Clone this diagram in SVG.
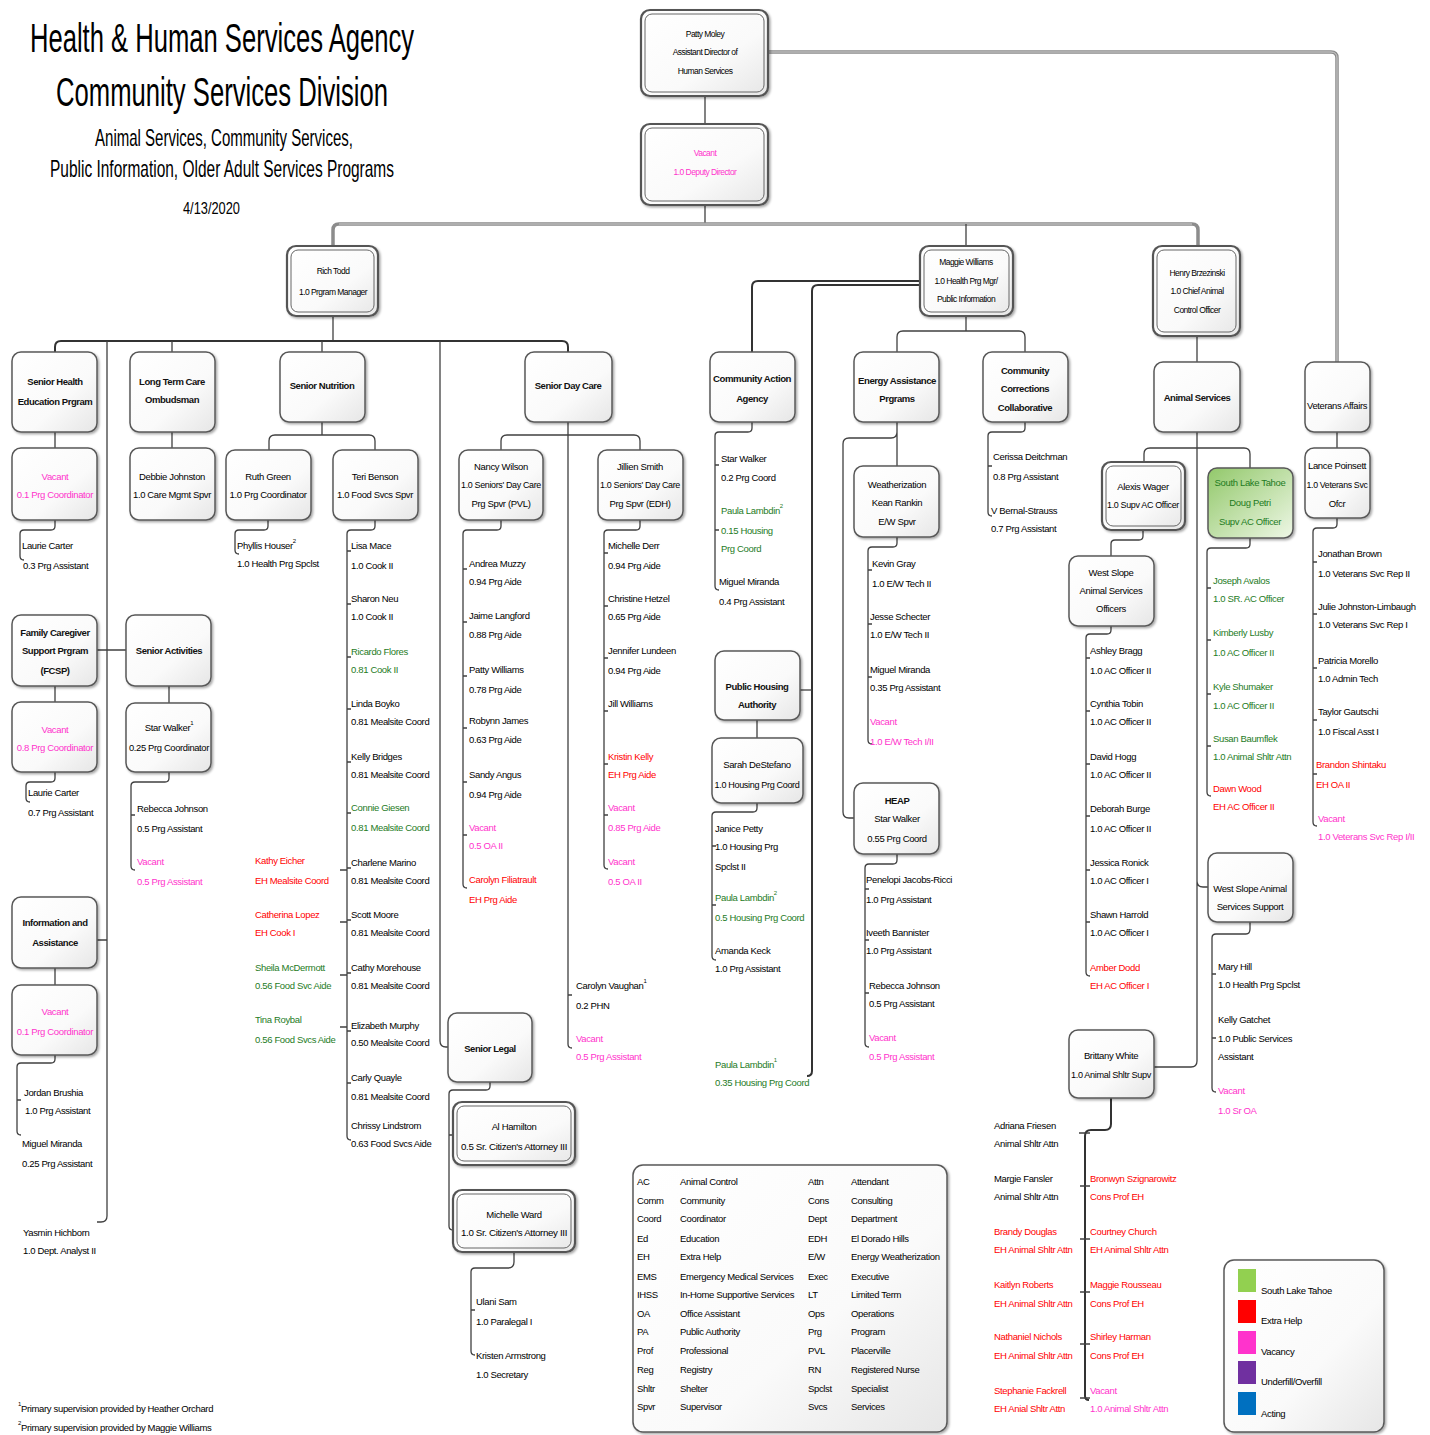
<svg xmlns="http://www.w3.org/2000/svg" width="1430" height="1435" viewBox="0 0 1430 1435">
<defs>
<linearGradient id="gw" x1="0" y1="0" x2="1" y2="1"><stop offset="0" stop-color="#ffffff"/><stop offset="0.6" stop-color="#fafafa"/><stop offset="1" stop-color="#e6e6e6"/></linearGradient>
<linearGradient id="gg" x1="0" y1="0" x2="1" y2="1"><stop offset="0" stop-color="#92c86a"/><stop offset="1" stop-color="#eef7e6"/></linearGradient>
<filter id="sh" x="-10%" y="-10%" width="130%" height="130%"><feDropShadow dx="1.5" dy="1.5" stdDeviation="1" flood-color="#000" flood-opacity="0.35"/></filter>
</defs>
<style>
.box{fill:url(#gw);stroke:#595959;stroke-width:1.5;filter:url(#sh)}
.dbl{fill:url(#gw);stroke:#555;stroke-width:2.2;filter:url(#sh)}
.in{fill:none;stroke:#666;stroke-width:1}
.c{fill:none;stroke:#404040;stroke-width:1.3}
.ct{fill:none;stroke:#333;stroke-width:2}
.bus{fill:none;stroke:#8c8c8c;stroke-width:3.5}
.busi{fill:none;stroke:#d0d0d0;stroke-width:1}
text{font-family:"Liberation Sans",Arial,sans-serif;font-size:9.5px;letter-spacing:-0.35px;fill:#000;dominant-baseline:central}
.m{text-anchor:middle}
.b{font-weight:bold;letter-spacing:-0.45px;fill:#111}
.s{font-size:8.5px;letter-spacing:-0.55px}
.v{fill:#ff33cc}
.r{fill:#ff0000}
.g{fill:#1e7b1e}
.tt{font-size:40px;letter-spacing:0}
.st{font-size:24px;letter-spacing:0}
</style>
<rect width="1430" height="1435" fill="#ffffff"/>

<g id="title">
<text x="30" y="38" class="tt" textLength="384" lengthAdjust="spacingAndGlyphs">Health &amp; Human Services Agency</text>
<text x="56" y="92" class="tt" textLength="332" lengthAdjust="spacingAndGlyphs">Community Services Division</text>
<text x="95" y="137" class="st" textLength="258" lengthAdjust="spacingAndGlyphs">Animal Services, Community Services,</text>
<text x="50" y="168" class="st" textLength="344" lengthAdjust="spacingAndGlyphs">Public Information, Older Adult Services Programs</text>
<text x="183" y="208" style="font-size:17px;letter-spacing:0" textLength="57" lengthAdjust="spacingAndGlyphs">4/13/2020</text>
</g>

<g id="connectors">
<path class="bus" d="M768,52 H1331 Q1337,52 1337,58 V362"/>
<path class="busi" d="M768,52 H1331 Q1337,52 1337,58 V362"/>
<path class="c" d="M705,96 V124"/>
<path class="c" d="M705,205 V224"/>
<path class="bus" d="M333,246 V230 Q333,224 339,224 H1192 Q1198,224 1198,230 V246"/>
<path class="busi" d="M339,224 H1192"/>
<path class="c" d="M966,224 V246"/>
<path class="c" d="M333,316 V341"/>
<path class="ct" d="M55,352 V347 Q55,341 61,341 H562 Q568,341 568,347 V352"/>
<path class="c" d="M172,341 V352 M322,341 V352"/>
<path class="c" d="M97,1222 H101 Q107,1222 107,1216 V341"/>
<path class="c" d="M440,341 V1041 Q440,1047 446,1047 H448"/>
<path class="c" d="M97,650 H126 M97,940 H107"/>
<path class="c" d="M55,432 V448 M55,520 V526 Q55,530 51,530 H24 Q20,530 20,534 V556 Q20,560 24,560"/>
<path class="c" d="M55,686 V702 M55,772 V778 Q55,782 51,782 H30 Q26,782 26,786 V798 Q26,802 30,802"/>
<path class="c" d="M55,968 V985 M55,1055 V1059 Q55,1063 51,1063 H21 Q17,1063 17,1067 V1131 Q17,1135 21,1135 M17,1100 H21"/>
<path class="c" d="M172,432 V448"/>
<path class="c" d="M169,686 V703 M169,772 V778 Q169,782 165,782 H135 Q131,782 131,786 V866 Q131,870 135,870 M131,815 H135"/>
<path class="c" d="M322,422 V435 M269,450 V441 Q269,435 275,435 H369 Q375,435 375,441 V450"/>
<path class="c" d="M268,520 V526 Q268,530 264,530 H239 Q235,530 235,534 V550 Q235,554 239,554"/>
<path class="c" d="M375,520 V526 Q375,530 371,530 H351 Q347,530 347,534 V1136 Q347,1140 351,1140 M347,551 H351 M347,604 H351 M347,657 H351 M347,709 H351 M347,762 H351 M347,813 H351 M347,868 H351 M347,920 H351 M347,973 H351 M347,1031 H351 M347,1083 H351 M340,870 H347 M340,922 H347 M340,975 H347 M340,1027 H347"/>
<path class="c" d="M568,422 V1044 Q568,1048 572,1048 M568,995 H572 M501,450 V441 Q501,435 507,435 H634 Q640,435 640,441 V450"/>
<path class="c" d="M501,520 V526 Q501,530 497,530 H467 Q463,530 463,534 V884 Q463,888 467,888 M463,569 H467 M463,622 H467 M463,676 H467 M463,728 H467 M463,782 H467 M463,835 H467"/>
<path class="c" d="M640,520 V526 Q640,530 636,530 H608 Q604,530 604,534 V865 Q604,869 608,869 M604,553 H608 M604,606 H608 M604,658 H608 M604,711 H608 M604,764 H608 M604,815 H608"/>
<path class="c" d="M490,1082 V1086 Q490,1090 486,1090 H453 Q449,1090 449,1094 V1226 Q449,1230 453,1230 M449,1135 H453"/>
<path class="c" d="M514,1252 V1262 Q514,1268 508,1268 H475 Q471,1268 471,1272 V1351 Q471,1355 475,1355 M471,1310 H475"/>
<path class="ct" d="M920,281 H758 Q752,281 752,287 V352"/>
<path class="ct" d="M920,285 H818 Q812,285 812,291 V1071 Q812,1076 807,1076"/>
<path class="c" d="M800,690 H812"/>
<path class="c" d="M966,316 V331 M897,352 V337 Q897,331 903,331 H1019 Q1025,331 1025,337 V352"/>
<path class="c" d="M752,422 V428 Q752,432 748,432 H719 Q715,432 715,436 V586 Q715,590 719,590 M715,465 H719 M715,530 H719"/>
<path class="c" d="M757,720 V738 M757,803 V808 Q757,812 753,812 H716 Q712,812 712,816 V956 Q712,960 716,960 M712,846 H716 M712,905 H716"/>
<path class="c" d="M897,422 V466 M897,432 Q897,438 891,438 H849 Q843,438 843,444 V812 Q843,818 849,818 H854"/>
<path class="c" d="M897,537 V543 Q897,547 893,547 H872 Q868,547 868,551 V740 Q868,744 872,744 M868,570 H872 M868,624 H872 M868,677 H872"/>
<path class="c" d="M897,854 V860 Q897,864 893,864 H869 Q865,864 865,868 V1043 Q865,1047 869,1047 M865,889 H869 M865,940 H869 M865,993 H869"/>
<path class="c" d="M1025,422 V428 Q1025,432 1021,432 H992 Q988,432 988,436 V512 Q988,516 992,516 M988,466 H992"/>
<path class="c" d="M1197,336 V362"/>
<path class="c" d="M1197,432 V1061 Q1197,1067 1191,1067 H1154 M1197,881 Q1197,887 1203,887 H1208"/>
<path class="c" d="M1144,462 V454 Q1144,448 1150,448 H1244 Q1250,448 1250,454 V468"/>
<path class="c" d="M1143,530 V536 Q1143,540 1139,540 H1115 Q1111,540 1111,544 V556"/>
<path class="c" d="M1111,626 V630 Q1111,634 1107,634 H1090 Q1086,634 1086,638 V972 Q1086,976 1090,976 M1086,658 H1090 M1086,711 H1090 M1086,764 H1090 M1086,816 H1090 M1086,870 H1090 M1086,922 H1090"/>
<path class="c" d="M1250,538 V544 Q1250,548 1246,548 H1211 Q1207,548 1207,552 V792 Q1207,796 1211,796 M1207,588 H1211 M1207,640 H1211 M1207,694 H1211 M1207,746 H1211"/>
<path class="c" d="M1250,922 V929 Q1250,934 1246,934 H1216 Q1212,934 1212,938 V1088 Q1212,1092 1216,1092 M1212,974 H1216 M1212,1038 H1216"/>
<path class="ct" d="M1111,1098 V1124 Q1111,1130 1105,1130 H1091 Q1085,1130 1085,1136 V1396 Q1085,1400 1089,1400"/>
<path class="c" d="M1079,1133 H1090 M1080,1186 H1090 M1080,1239 H1090 M1080,1292 H1090 M1080,1344 H1090 M1080,1398 H1090"/>
<path class="c" d="M1337,432 V448 M1337,518 V524 Q1337,528 1333,528 H1317 Q1313,528 1313,532 V822 Q1313,826 1317,826 M1313,562 H1317 M1313,614 H1317 M1313,668 H1317 M1313,720 H1317 M1313,774 H1317"/>
</g>

<g id="patty-moley">
<rect class="dbl" x="641" y="10" width="127" height="86" rx="9"/><rect class="in" x="645" y="14" width="119" height="78" rx="7"/>
<text class="m s" x="705" y="34">Patty Moley</text><text class="m s" x="705" y="52">Assistant Director of</text><text class="m s" x="705" y="71">Human Services</text>
</g>
<g id="deputy-director">
<rect class="dbl" x="641" y="124" width="127" height="81" rx="9"/><rect class="in" x="645" y="128" width="119" height="73" rx="7"/>
<text class="m s v" x="705" y="153">Vacant</text><text class="m s v" x="705" y="172">1.0 Deputy Director</text>
</g>
<g id="rich-todd">
<rect class="dbl" x="287" y="246" width="91" height="70" rx="9"/><rect class="in" x="291" y="250" width="83" height="62" rx="7"/>
<text class="m s" x="333" y="271">Rich Todd</text><text class="m s" x="333" y="292">1.0 Prgram Manager</text>
</g>
<g id="maggie-williams">
<rect class="dbl" x="920" y="246" width="93" height="70" rx="9"/><rect class="in" x="924" y="250" width="85" height="62" rx="7"/>
<text class="m s" x="966" y="262">Maggie Williams</text><text class="m s" x="966" y="281">1.0 Health Prg Mgr/</text><text class="m s" x="966" y="299">Public Information</text>
</g>
<g id="henry-brzezinski">
<rect class="dbl" x="1153" y="246" width="87" height="90" rx="9"/><rect class="in" x="1157" y="250" width="79" height="82" rx="7"/>
<text class="m s" x="1197" y="273">Henry Brzezinski</text><text class="m s" x="1197" y="291">1.0 Chief Animal</text><text class="m s" x="1197" y="310">Control Officer</text>
</g>

<g id="senior-health">
<rect class="box" x="12" y="352" width="85" height="80" rx="9"/>
<text class="m b" x="55" y="381">Senior Health</text><text class="m b" x="55" y="401">Education Prgram</text>
</g>
<g id="she-vacant">
<rect class="box" x="12" y="448" width="85" height="72" rx="9"/>
<text class="m v" x="55" y="476">Vacant</text><text class="m v" x="55" y="494">0.1 Prg Coordinator</text>
</g>
<g id="she-staff"><text x="22" y="545">Laurie Carter</text><text x="23" y="565">0.3 Prg Assistant</text></g>

<g id="family-caregiver">
<rect class="box" x="12" y="615" width="85" height="71" rx="9"/>
<text class="m b" x="55" y="632">Family Caregiver</text><text class="m b" x="55" y="650">Support Prgram</text><text class="m b" x="55" y="670">(FCSP)</text>
</g>
<g id="fcsp-vacant">
<rect class="box" x="12" y="702" width="85" height="70" rx="9"/>
<text class="m v" x="55" y="729">Vacant</text><text class="m v" x="55" y="747">0.8 Prg Coordinator</text>
</g>
<g id="fcsp-staff"><text x="28" y="792">Laurie Carter</text><text x="28" y="812">0.7 Prg Assistant</text></g>

<g id="info-assistance">
<rect class="box" x="12" y="897" width="85" height="71" rx="9"/>
<text class="m b" x="55" y="922">Information and</text><text class="m b" x="55" y="942">Assistance</text>
</g>
<g id="ia-vacant">
<rect class="box" x="12" y="985" width="85" height="70" rx="9"/>
<text class="m v" x="55" y="1011">Vacant</text><text class="m v" x="55" y="1031">0.1 Prg Coordinator</text>
</g>
<g id="ia-staff"><text x="24" y="1092">Jordan Brushia</text><text x="25" y="1110">1.0 Prg Assistant</text><text x="22" y="1143">Miguel Miranda</text><text x="22" y="1163">0.25 Prg Assistant</text></g>
<g id="yasmin"><text x="23" y="1232">Yasmin Hichborn</text><text x="23" y="1250">1.0 Dept. Analyst II</text></g>

<g id="long-term-care">
<rect class="box" x="130" y="352" width="85" height="80" rx="9"/>
<text class="m b" x="172" y="381">Long Term Care</text><text class="m b" x="172" y="399">Ombudsman</text>
</g>
<g id="debbie-johnston">
<rect class="box" x="130" y="448" width="85" height="72" rx="9"/>
<text class="m" x="172" y="476">Debbie Johnston</text><text class="m" x="172" y="494" textLength="78" lengthAdjust="spacingAndGlyphs">1.0 Care Mgmt Spvr</text>
</g>

<g id="senior-activities">
<rect class="box" x="126" y="615" width="85" height="71" rx="9"/>
<text class="m b" x="169" y="650">Senior Activities</text>
</g>
<g id="star-walker-sa">
<rect class="box" x="126" y="703" width="85" height="69" rx="9"/>
<text class="m" x="169" y="727">Star Walker<tspan font-size="6" dy="-4">1</tspan></text><text class="m" x="169" y="747" textLength="80" lengthAdjust="spacingAndGlyphs">0.25 Prg Coordinator</text>
</g>
<g id="sa-staff"><text x="137" y="808">Rebecca Johnson</text><text x="137" y="828">0.5 Prg Assistant</text><text class="v" x="137" y="861">Vacant</text><text class="v" x="137" y="881">0.5 Prg Assistant</text></g>

<g id="senior-nutrition">
<rect class="box" x="280" y="352" width="85" height="70" rx="9"/>
<text class="m b" x="322" y="385">Senior Nutrition</text>
</g>
<g id="ruth-green">
<rect class="box" x="226" y="450" width="85" height="70" rx="9"/>
<text class="m" x="268" y="476">Ruth Green</text><text class="m" x="268" y="494" textLength="77" lengthAdjust="spacingAndGlyphs">1.0 Prg Coordinator</text>
</g>
<g id="ruth-staff"><text x="237" y="545">Phyllis Houser<tspan font-size="6" dy="-4">2</tspan></text><text x="237" y="563">1.0 Health Prg Spclst</text></g>
<g id="teri-benson">
<rect class="box" x="333" y="450" width="85" height="70" rx="9"/>
<text class="m" x="375" y="476">Teri Benson</text><text class="m" x="375" y="494" textLength="76" lengthAdjust="spacingAndGlyphs">1.0 Food Svcs Spvr</text>
</g>
<g id="teri-staff">
<text x="351" y="545">Lisa Mace</text><text x="351" y="565">1.0 Cook II</text>
<text x="351" y="598">Sharon Neu</text><text x="351" y="616">1.0 Cook II</text>
<text class="g" x="351" y="651">Ricardo Flores</text><text class="g" x="351" y="669">0.81 Cook II</text>
<text x="351" y="703">Linda Boyko</text><text x="351" y="721">0.81 Mealsite Coord</text>
<text x="351" y="756">Kelly Bridges</text><text x="351" y="774">0.81 Mealsite Coord</text>
<text class="g" x="351" y="807">Connie Giesen</text><text class="g" x="351" y="827">0.81 Mealsite Coord</text>
<text x="351" y="862">Charlene Marino</text><text x="351" y="880">0.81 Mealsite Coord</text>
<text x="351" y="914">Scott Moore</text><text x="351" y="932">0.81 Mealsite Coord</text>
<text x="351" y="967">Cathy Morehouse</text><text x="351" y="985">0.81 Mealsite Coord</text>
<text x="351" y="1025">Elizabeth Murphy</text><text x="351" y="1042">0.50 Mealsite Coord</text>
<text x="351" y="1077">Carly Quayle</text><text x="351" y="1096">0.81 Mealsite Coord</text>
<text x="351" y="1125">Chrissy Lindstrom</text><text x="351" y="1143">0.63 Food Svcs Aide</text>
<text class="r" x="255" y="860">Kathy Eicher</text><text class="r" x="255" y="880">EH Mealsite Coord</text>
<text class="r" x="255" y="914">Catherina Lopez</text><text class="r" x="255" y="932">EH Cook I</text>
<text class="g" x="255" y="967">Sheila McDermott</text><text class="g" x="255" y="985">0.56 Food Svc Aide</text>
<text class="g" x="255" y="1019">Tina Roybal</text><text class="g" x="255" y="1039">0.56 Food Svcs Aide</text>
</g>

<g id="senior-day-care">
<rect class="box" x="525" y="352" width="87" height="70" rx="9"/>
<text class="m b" x="568" y="385">Senior Day Care</text>
</g>
<g id="nancy-wilson">
<rect class="box" x="459" y="450" width="84" height="70" rx="9"/>
<text class="m" x="501" y="466">Nancy Wilson</text><text class="m" x="501" y="484" textLength="80" lengthAdjust="spacingAndGlyphs">1.0 Seniors' Day Care</text><text class="m" x="501" y="503">Prg Spvr (PVL)</text>
</g>
<g id="nancy-staff">
<text x="469" y="563">Andrea Muzzy</text><text x="469" y="581">0.94 Prg Aide</text>
<text x="469" y="615">Jaime Langford</text><text x="469" y="634">0.88 Prg Aide</text>
<text x="469" y="669">Patty Williams</text><text x="469" y="689">0.78 Prg Aide</text>
<text x="469" y="720">Robynn James</text><text x="469" y="739">0.63 Prg Aide</text>
<text x="469" y="774">Sandy Angus</text><text x="469" y="794">0.94 Prg Aide</text>
<text class="v" x="469" y="827">Vacant</text><text class="v" x="469" y="845">0.5 OA II</text>
<text class="r" x="469" y="879">Carolyn Filiatrault</text><text class="r" x="469" y="899">EH Prg Aide</text>
</g>
<g id="jillien-smith">
<rect class="box" x="598" y="450" width="85" height="70" rx="9"/>
<text class="m" x="640" y="466">Jillien Smith</text><text class="m" x="640" y="484" textLength="80" lengthAdjust="spacingAndGlyphs">1.0 Seniors' Day Care</text><text class="m" x="640" y="503">Prg Spvr (EDH)</text>
</g>
<g id="jillien-staff">
<text x="608" y="545">Michelle Derr</text><text x="608" y="565">0.94 Prg Aide</text>
<text x="608" y="598">Christine Hetzel</text><text x="608" y="616">0.65 Prg Aide</text>
<text x="608" y="650">Jennifer Lundeen</text><text x="608" y="670">0.94 Prg Aide</text>
<text x="608" y="703">Jill Williams</text>
<text class="r" x="608" y="756">Kristin Kelly</text><text class="r" x="608" y="774">EH Prg Aide</text>
<text class="v" x="608" y="807">Vacant</text><text class="v" x="608" y="827">0.85 Prg Aide</text>
<text class="v" x="608" y="861">Vacant</text><text class="v" x="608" y="881">0.5 OA II</text>
</g>
<g id="sdc-staff">
<text x="576" y="985">Carolyn Vaughan<tspan font-size="6" dy="-4">1</tspan></text><text x="576" y="1005">0.2 PHN</text>
<text class="v" x="576" y="1038">Vacant</text><text class="v" x="576" y="1056">0.5 Prg Assistant</text>
</g>

<g id="senior-legal">
<rect class="box" x="448" y="1013" width="84" height="69" rx="9"/>
<text class="m b" x="490" y="1048">Senior Legal</text>
</g>
<g id="al-hamilton">
<rect class="dbl" x="453" y="1102" width="122" height="63" rx="9"/><rect class="in" x="457" y="1106" width="114" height="55" rx="7"/>
<text class="m" x="514" y="1126">Al Hamilton</text><text class="m" x="514" y="1146" textLength="106" lengthAdjust="spacingAndGlyphs">0.5 Sr. Citizen's Attorney III</text>
</g>
<g id="michelle-ward">
<rect class="dbl" x="453" y="1190" width="122" height="62" rx="9"/><rect class="in" x="457" y="1194" width="114" height="54" rx="7"/>
<text class="m" x="514" y="1214">Michelle Ward</text><text class="m" x="514" y="1232" textLength="106" lengthAdjust="spacingAndGlyphs">1.0 Sr. Citizen's Attorney III</text>
</g>
<g id="legal-staff">
<text x="476" y="1301">Ulani Sam</text><text x="476" y="1321">1.0 Paralegal I</text>
<text x="476" y="1355">Kristen Armstrong</text><text x="476" y="1374">1.0 Secretary</text>
</g>

<g id="community-action">
<rect class="box" x="710" y="352" width="85" height="70" rx="9"/>
<text class="m b" x="752" y="378" textLength="78" lengthAdjust="spacingAndGlyphs">Community Action</text><text class="m b" x="752" y="398">Agency</text>
</g>
<g id="caa-staff">
<text x="721" y="458">Star Walker</text><text x="721" y="477">0.2 Prg Coord</text>
<text class="g" x="721" y="510">Paula Lambdin<tspan font-size="6" dy="-4">2</tspan></text><text class="g" x="721" y="530">0.15 Housing</text><text class="g" x="721" y="548">Prg Coord</text>
<text x="719" y="581">Miguel Miranda</text><text x="719" y="601">0.4 Prg Assistant</text>
</g>
<g id="public-housing">
<rect class="box" x="715" y="651" width="85" height="69" rx="9"/>
<text class="m b" x="757" y="686">Public Housing</text><text class="m b" x="757" y="704">Authority</text>
</g>
<g id="sarah-destefano">
<rect class="box" x="712" y="738" width="91" height="65" rx="9"/>
<text class="m" x="757" y="764">Sarah DeStefano</text><text class="m" x="757" y="784" textLength="85" lengthAdjust="spacingAndGlyphs">1.0 Housing Prg Coord</text>
</g>
<g id="pha-staff">
<text x="715" y="828">Janice Petty</text><text x="715" y="846">1.0 Housing Prg</text><text x="715" y="866">Spclst II</text>
<text class="g" x="715" y="897">Paula Lambdin<tspan font-size="6" dy="-4">2</tspan></text><text class="g" x="715" y="917">0.5 Housing Prg Coord</text>
<text x="715" y="950">Amanda Keck</text><text x="715" y="968">1.0 Prg Assistant</text>
</g>
<g id="paula-lambdin-pi">
<text class="g" x="715" y="1064">Paula Lambdin<tspan font-size="6" dy="-4">1</tspan></text><text class="g" x="715" y="1082">0.35 Housing Prg Coord</text>
</g>

<g id="energy-assistance">
<rect class="box" x="854" y="352" width="85" height="70" rx="9"/>
<text class="m b" x="897" y="380" textLength="78" lengthAdjust="spacingAndGlyphs">Energy Assistance</text><text class="m b" x="897" y="398">Prgrams</text>
</g>
<g id="weatherization">
<rect class="box" x="854" y="466" width="85" height="71" rx="9"/>
<text class="m" x="897" y="484">Weatherization</text><text class="m" x="897" y="502">Kean Rankin</text><text class="m" x="897" y="521">E/W Spvr</text>
</g>
<g id="wx-staff">
<text x="872" y="563">Kevin Gray</text><text x="872" y="583">1.0 E/W Tech II</text>
<text x="870" y="616">Jesse Schecter</text><text x="870" y="634">1.0 E/W Tech II</text>
<text x="870" y="669">Miguel Miranda</text><text x="870" y="687">0.35 Prg Assistant</text>
<text class="v" x="870" y="721">Vacant</text><text class="v" x="870" y="741">1.0 E/W Tech I/II</text>
</g>
<g id="heap">
<rect class="box" x="854" y="783" width="85" height="71" rx="9"/>
<text class="m b" x="897" y="800">HEAP</text><text class="m" x="897" y="818">Star Walker</text><text class="m" x="897" y="838">0.55 Prg Coord</text>
</g>
<g id="heap-staff">
<text x="866" y="879">Penelopi Jacobs-Ricci</text><text x="866" y="899">1.0 Prg Assistant</text>
<text x="866" y="932">Iveeth Bannister</text><text x="866" y="950">1.0 Prg Assistant</text>
<text x="869" y="985">Rebecca Johnson</text><text x="869" y="1003">0.5 Prg Assistant</text>
<text class="v" x="869" y="1037">Vacant</text><text class="v" x="869" y="1056">0.5 Prg Assistant</text>
</g>

<g id="community-corrections">
<rect class="box" x="983" y="352" width="85" height="70" rx="9"/>
<text class="m b" x="1025" y="370">Community</text><text class="m b" x="1025" y="388">Corrections</text><text class="m b" x="1025" y="407">Collaborative</text>
</g>
<g id="ccc-staff">
<text x="993" y="456">Cerissa Deitchman</text><text x="993" y="476">0.8 Prg Assistant</text>
<text x="991" y="510">V Bernal-Strauss</text><text x="991" y="528">0.7 Prg Assistant</text>
</g>

<g id="animal-services">
<rect class="box" x="1154" y="362" width="86" height="70" rx="9"/>
<text class="m b" x="1197" y="397">Animal Services</text>
</g>
<g id="alexis-wager">
<rect class="dbl" x="1102" y="462" width="83" height="68" rx="9"/><rect class="in" x="1106" y="466" width="75" height="60" rx="7"/>
<text class="m" x="1143" y="486">Alexis Wager</text><text class="m" x="1143" y="504" textLength="72" lengthAdjust="spacingAndGlyphs">1.0 Supv AC Officer</text>
</g>
<g id="west-slope-officers">
<rect class="box" x="1069" y="556" width="85" height="70" rx="9"/>
<text class="m" x="1111" y="572">West Slope</text><text class="m" x="1111" y="590">Animal Services</text><text class="m" x="1111" y="608">Officers</text>
</g>
<g id="wso-staff">
<text x="1090" y="650">Ashley Bragg</text><text x="1090" y="670">1.0 AC Officer II</text>
<text x="1090" y="703">Cynthia Tobin</text><text x="1090" y="721">1.0 AC Officer II</text>
<text x="1090" y="756">David Hogg</text><text x="1090" y="774">1.0 AC Officer II</text>
<text x="1090" y="808">Deborah Burge</text><text x="1090" y="828">1.0 AC Officer II</text>
<text x="1090" y="862">Jessica Ronick</text><text x="1090" y="880">1.0 AC Officer I</text>
<text x="1090" y="914">Shawn Harrold</text><text x="1090" y="932">1.0 AC Officer I</text>
<text class="r" x="1090" y="967">Amber Dodd</text><text class="r" x="1090" y="985">EH AC Officer I</text>
</g>
<g id="south-lake-tahoe">
<rect class="box" x="1208" y="468" width="85" height="70" rx="9" style="fill:url(#gg)"/>
<text class="m g" x="1250" y="482">South Lake Tahoe</text><text class="m g" x="1250" y="502">Doug Petri</text><text class="m g" x="1250" y="521">Supv AC Officer</text>
</g>
<g id="slt-staff">
<text class="g" x="1213" y="580">Joseph Avalos</text><text class="g" x="1213" y="598">1.0 SR. AC Officer</text>
<text class="g" x="1213" y="632">Kimberly Lusby</text><text class="g" x="1213" y="652">1.0  AC Officer II</text>
<text class="g" x="1213" y="686">Kyle Shumaker</text><text class="g" x="1213" y="705">1.0 AC Officer II</text>
<text class="g" x="1213" y="738">Susan Baumflek</text><text class="g" x="1213" y="756">1.0 Animal Shltr Attn</text>
<text class="r" x="1213" y="788">Dawn Wood</text><text class="r" x="1213" y="806">EH AC Officer II</text>
</g>
<g id="west-slope-support">
<rect class="box" x="1208" y="853" width="85" height="69" rx="9"/>
<text class="m" x="1250" y="888">West Slope Animal</text><text class="m" x="1250" y="906">Services Support</text>
</g>
<g id="wss-staff">
<text x="1218" y="966">Mary Hill</text><text x="1218" y="984">1.0  Health Prg Spclst</text>
<text x="1218" y="1019">Kelly Gatchet</text><text x="1218" y="1038">1.0 Public Services</text><text x="1218" y="1056">Assistant</text>
<text class="v" x="1218" y="1090">Vacant</text><text class="v" x="1218" y="1110">1.0 Sr OA</text>
</g>
<g id="brittany-white">
<rect class="box" x="1069" y="1030" width="85" height="68" rx="9"/>
<text class="m" x="1111" y="1055">Brittany White</text><text class="m" x="1111" y="1074" textLength="80" lengthAdjust="spacingAndGlyphs">1.0 Animal Shltr Supv</text>
</g>
<g id="shelter-staff">
<text x="994" y="1125">Adriana Friesen</text><text x="994" y="1143">Animal Shltr Attn</text>
<text x="994" y="1178">Margie Fansler</text><text x="994" y="1196">Animal Shltr Attn</text>
<text class="r" x="994" y="1231">Brandy Douglas</text><text class="r" x="994" y="1249">EH Animal Shltr Attn</text>
<text class="r" x="994" y="1284">Kaitlyn Roberts</text><text class="r" x="994" y="1303">EH Animal Shltr Attn</text>
<text class="r" x="994" y="1336">Nathaniel Nichols</text><text class="r" x="994" y="1355">EH Animal Shltr Attn</text>
<text class="r" x="994" y="1390">Stephanie Fackrell</text><text class="r" x="994" y="1408">EH Anial Shltr Attn</text>
<text class="r" x="1090" y="1178">Bronwyn Szignarowitz</text><text class="r" x="1090" y="1196">Cons Prof EH</text>
<text class="r" x="1090" y="1231">Courtney Church</text><text class="r" x="1090" y="1249">EH Animal Shltr Attn</text>
<text class="r" x="1090" y="1284">Maggie Rousseau</text><text class="r" x="1090" y="1303">Cons Prof EH</text>
<text class="r" x="1090" y="1336">Shirley Harman</text><text class="r" x="1090" y="1355">Cons Prof EH</text>
<text class="v" x="1090" y="1390">Vacant</text><text class="v" x="1090" y="1408">1.0 Animal Shltr Attn</text>
</g>

<g id="veterans-affairs">
<rect class="box" x="1305" y="362" width="65" height="70" rx="9"/>
<text class="m" x="1337" y="405" textLength="60" lengthAdjust="spacingAndGlyphs">Veterans Affairs</text>
</g>
<g id="lance-poinsett">
<rect class="box" x="1305" y="448" width="65" height="70" rx="9"/>
<text class="m" x="1337" y="465" textLength="58" lengthAdjust="spacingAndGlyphs">Lance Poinsett</text><text class="m" x="1337" y="484" textLength="61" lengthAdjust="spacingAndGlyphs">1.0 Veterans Svc</text><text class="m" x="1337" y="503">Ofcr</text>
</g>
<g id="va-staff">
<text x="1318" y="553">Jonathan Brown</text><text x="1318" y="573">1.0 Veterans Svc Rep II</text>
<text x="1318" y="606">Julie Johnston-Limbaugh</text><text x="1318" y="624">1.0 Veterans Svc Rep I</text>
<text x="1318" y="660">Patricia Morello</text><text x="1318" y="678">1.0 Admin Tech</text>
<text x="1318" y="711">Taylor Gautschi</text><text x="1318" y="731">1.0 Fiscal Asst I</text>
<text class="r" x="1316" y="764">Brandon Shintaku</text><text class="r" x="1316" y="784">EH OA II</text>
<text class="v" x="1318" y="818">Vacant</text><text class="v" x="1318" y="836">1.0 Veterans Svc Rep I/II</text>
</g>

<g id="abbreviations">
<rect class="box" x="633" y="1165" width="314" height="267" rx="10"/>
<text x="637" y="1181">AC</text><text x="680" y="1181">Animal Control</text><text x="808" y="1181">Attn</text><text x="851" y="1181">Attendant</text>
<text x="637" y="1200">Comm</text><text x="680" y="1200">Community</text><text x="808" y="1200">Cons</text><text x="851" y="1200">Consulting</text>
<text x="637" y="1218">Coord</text><text x="680" y="1218">Coordinator</text><text x="808" y="1218">Dept</text><text x="851" y="1218">Department</text>
<text x="637" y="1238">Ed</text><text x="680" y="1238">Education</text><text x="808" y="1238">EDH</text><text x="851" y="1238">El Dorado Hills</text>
<text x="637" y="1256">EH</text><text x="680" y="1256">Extra Help</text><text x="808" y="1256">E/W</text><text x="851" y="1256">Energy Weatherization</text>
<text x="637" y="1276">EMS</text><text x="680" y="1276">Emergency Medical Services</text><text x="808" y="1276">Exec</text><text x="851" y="1276">Executive</text>
<text x="637" y="1294">IHSS</text><text x="680" y="1294">In-Home Supportive Services</text><text x="808" y="1294">LT</text><text x="851" y="1294">Limited Term</text>
<text x="637" y="1313">OA</text><text x="680" y="1313">Office Assistant</text><text x="808" y="1313">Ops</text><text x="851" y="1313">Operations</text>
<text x="637" y="1331">PA</text><text x="680" y="1331">Public Authority</text><text x="808" y="1331">Prg</text><text x="851" y="1331">Program</text>
<text x="637" y="1350">Prof</text><text x="680" y="1350">Professional</text><text x="808" y="1350">PVL</text><text x="851" y="1350">Placerville</text>
<text x="637" y="1369">Reg</text><text x="680" y="1369">Registry</text><text x="808" y="1369">RN</text><text x="851" y="1369">Registered Nurse</text>
<text x="637" y="1388">Shltr</text><text x="680" y="1388">Shelter</text><text x="808" y="1388">Spclst</text><text x="851" y="1388">Specialist</text>
<text x="637" y="1406">Spvr</text><text x="680" y="1406">Supervisor</text><text x="808" y="1406">Svcs</text><text x="851" y="1406">Services</text>
</g>

<g id="color-legend">
<rect class="box" x="1224" y="1260" width="160" height="172" rx="10"/>
<rect x="1238" y="1269" width="18" height="23" fill="#92D050"/><text x="1261" y="1290">South Lake Tahoe</text>
<rect x="1238" y="1300" width="18" height="23" fill="#FF0000"/><text x="1261" y="1320">Extra Help</text>
<rect x="1238" y="1331" width="18" height="23" fill="#FF33CC"/><text x="1261" y="1351">Vacancy</text>
<rect x="1238" y="1361" width="18" height="23" fill="#7030A0"/><text x="1261" y="1381">Underfill/Overfill</text>
<rect x="1238" y="1392" width="18" height="23" fill="#0070C0"/><text x="1261" y="1413">Acting</text>
</g>

<g id="footnotes">
<text x="18" y="1408"><tspan font-size="6" dy="-4">1</tspan><tspan dy="4">Primary supervision provided by Heather Orchard</tspan></text>
<text x="18" y="1427"><tspan font-size="6" dy="-4">2</tspan><tspan dy="4">Primary supervision provided by Maggie Williams</tspan></text>
</g>
</svg>
